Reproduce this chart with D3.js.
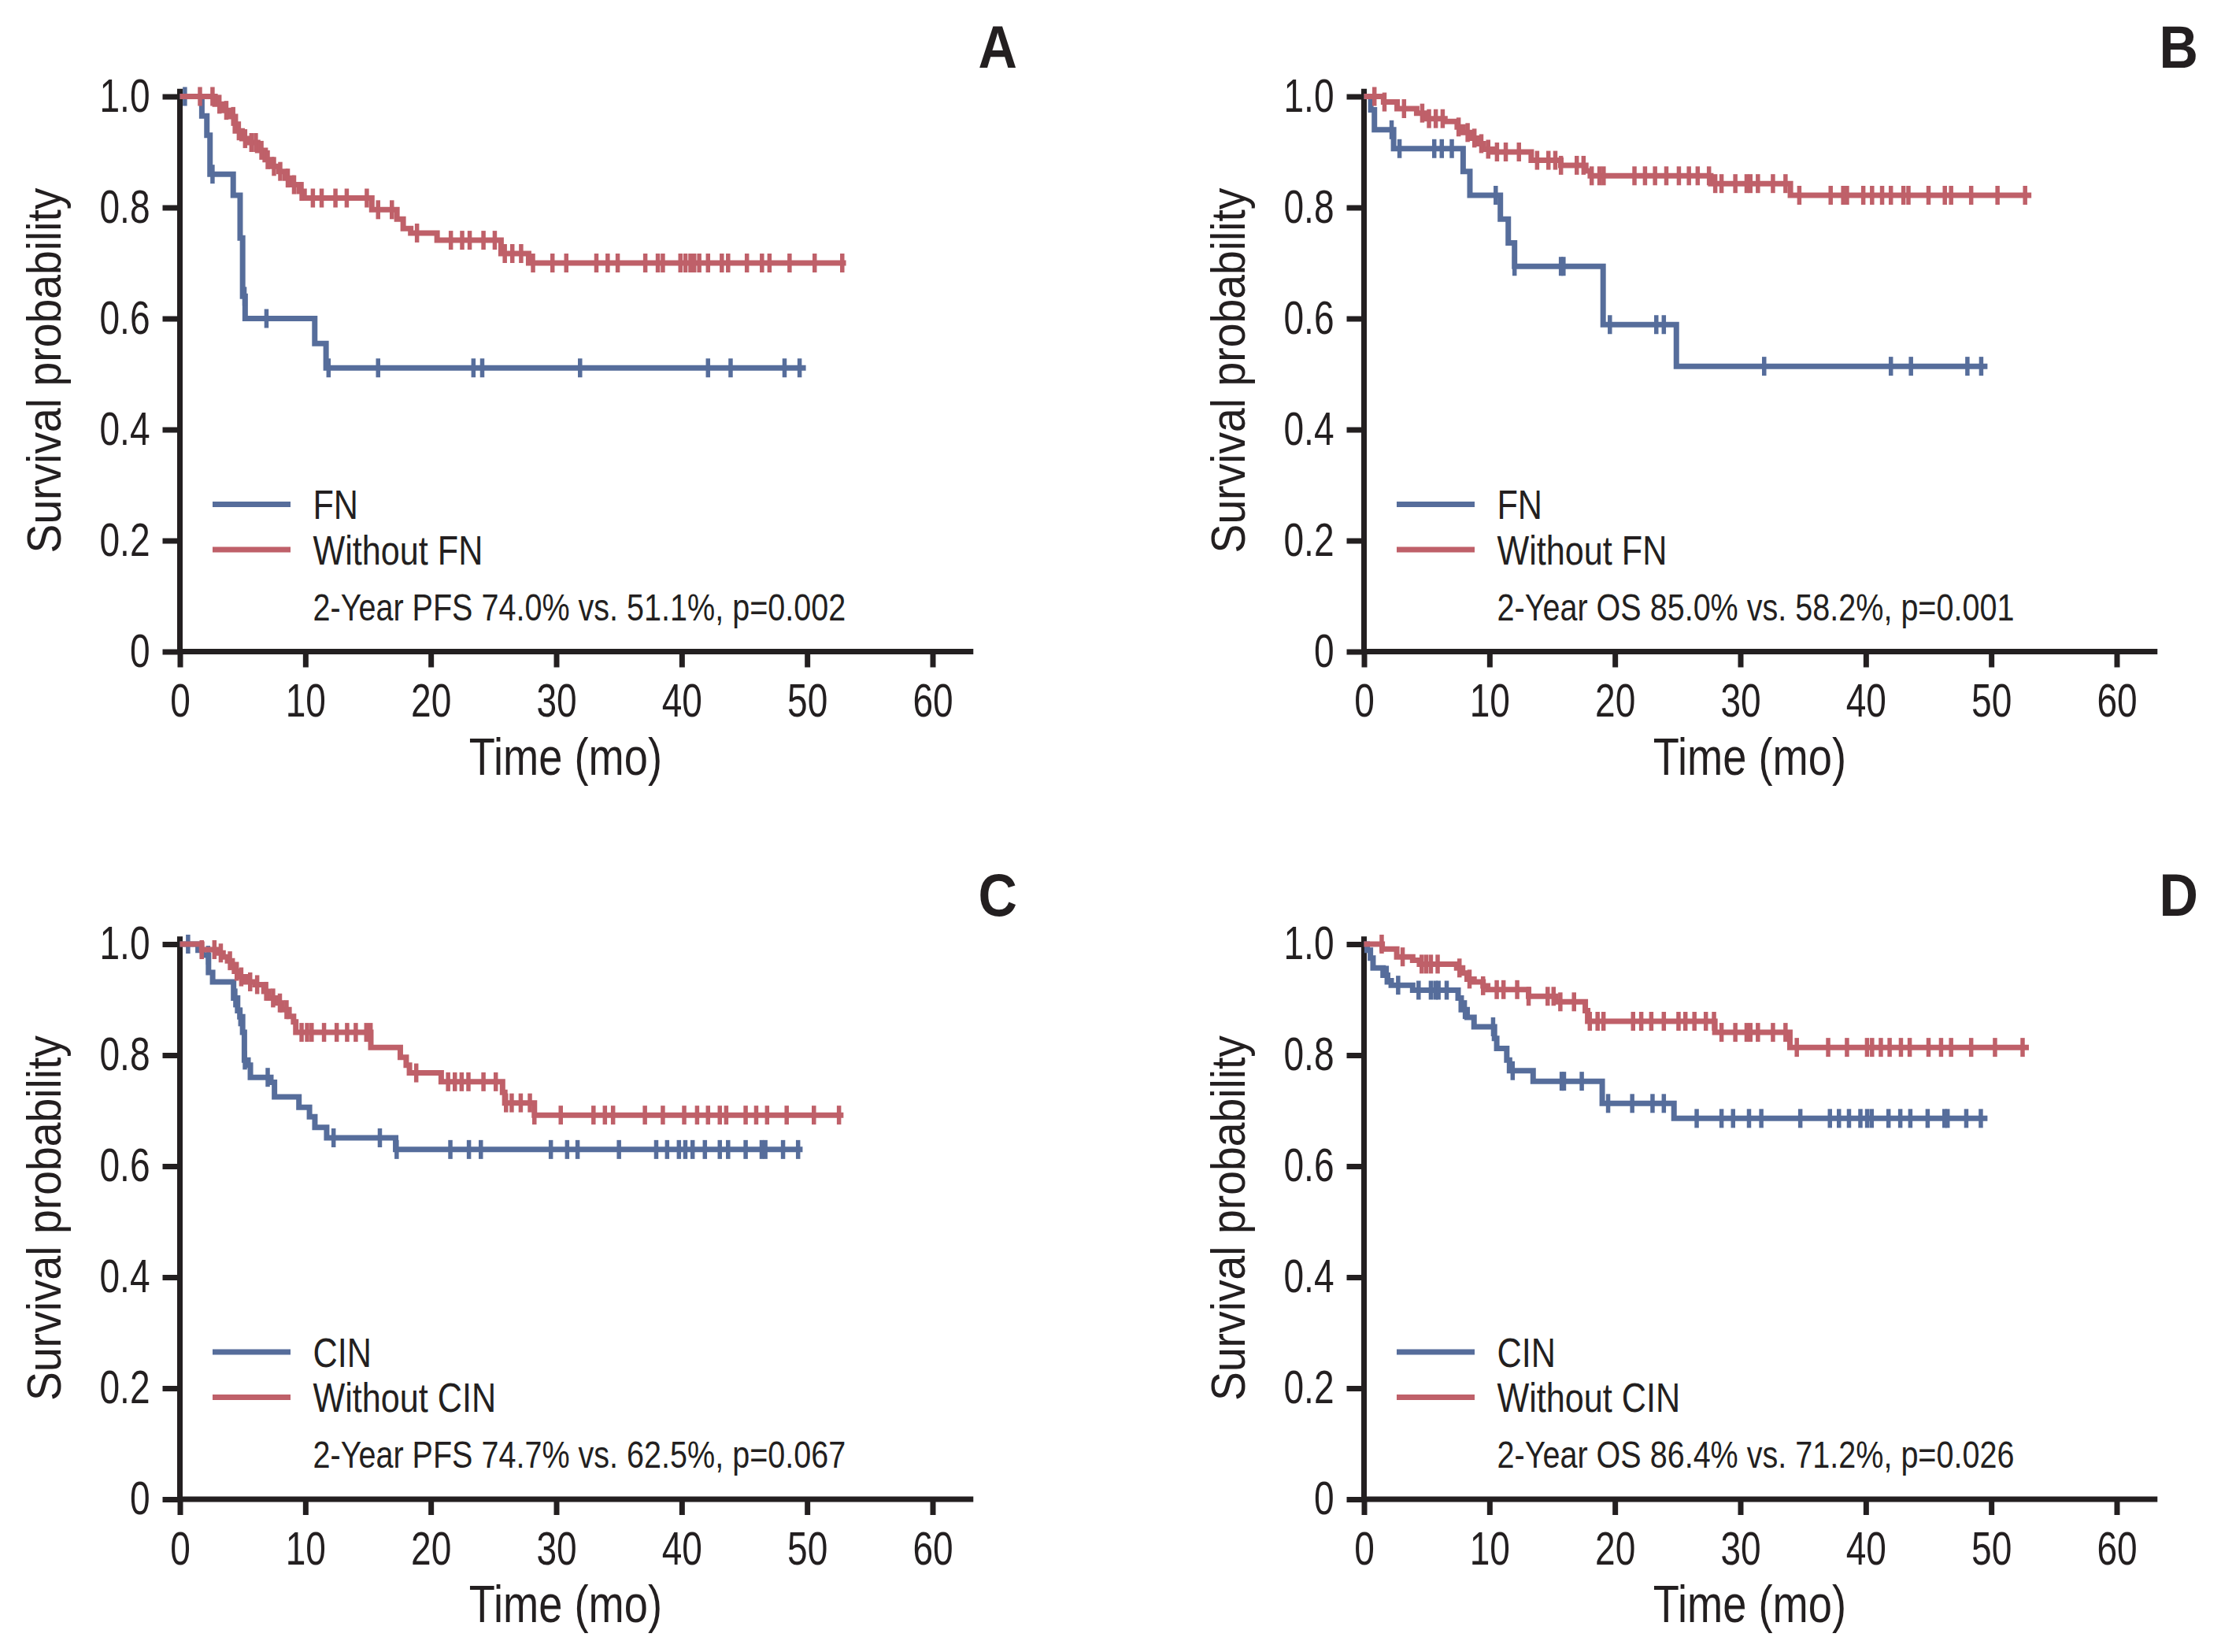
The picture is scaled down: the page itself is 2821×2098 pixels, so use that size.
<!DOCTYPE html>
<html><head><meta charset="utf-8">
<script src="https://cdn.jsdelivr.net/npm/d3@7"></script>
<style>body{margin:0;background:#fff}</style>
</head><body>
<svg id="chart" width="2821" height="2098"></svg>
<script>
// ---------- tick labels ----------
const xTicks = [0, 10, 20, 30, 40, 50, 60];
const yTicks = [0, 0.2, 0.4, 0.6, 0.8, 1.0];
const panelLetters = ["A", "B", "C", "D"];
const groupLabelsFN = ["FN", "Without FN"];
const groupLabelsCIN = ["CIN", "Without CIN"];
const statTexts = [
  "2-Year PFS 74.0% vs. 51.1%, p=0.002",
  "2-Year OS 85.0% vs. 58.2%, p=0.001",
  "2-Year PFS 74.7% vs. 62.5%, p=0.067",
  "2-Year OS 86.4% vs. 71.2%, p=0.026"
];

// ---------- Panel A: PFS by FN ----------
const aFnTime = [1.75, 2.15, 2.4, 4.25, 4.8, 5.0, 5.2, 10.75, 11.65];
const aFnSurv = [0.965, 0.93, 0.86, 0.822, 0.745, 0.64, 0.60, 0.555, 0.511];
const aFnCens = [0.4, 2.6, 5.15, 6.9, 11.85, 15.8, 23.4, 24.1, 31.9, 42.1, 43.9, 48.2, 49.4];
const aFnEnd = 49.9;
const aNoTime = [2.8, 3.35, 4.05, 4.42, 4.96, 5.5, 6.2, 6.8, 7.3, 7.9, 8.4, 8.95, 9.5, 9.9, 15.3, 17.3, 17.8, 18.4, 20.5, 25.6, 27.8];
const aNoSurv = [0.986, 0.975, 0.964, 0.938, 0.924, 0.917, 0.903, 0.886, 0.874, 0.865, 0.853, 0.841, 0.829, 0.817, 0.796, 0.779, 0.762, 0.754, 0.741, 0.717, 0.70];
const aNoCens = [1.6, 2.6, 3.15, 3.7, 4.25, 4.7, 5.2, 5.7, 6.05, 6.5, 7.0, 7.5, 8.0, 8.6, 9.1, 9.7, 10.6, 11.3, 12.4, 13.3, 14.9, 15.8, 16.9, 18.9, 21.6, 22.5, 23.1, 24.2, 25.1, 25.9, 26.5, 27.2, 28.15, 29.7, 30.8, 33.2, 34.1, 34.9, 37.1, 38.1, 38.5, 39.9, 40.3, 40.7, 41.0, 41.4, 42.1, 43.2, 43.7, 45.2, 46.4, 47.0, 48.6, 50.6, 52.8];
const aNoEnd = 53.1;

// ---------- Panel B: OS by FN ----------
const bFnTime = [0.54, 0.83, 2.36, 7.9, 8.44, 10.87, 11.5, 12.0, 19.06, 24.9];
const bFnSurv = [0.976, 0.94, 0.906, 0.865, 0.822, 0.779, 0.736, 0.694, 0.589, 0.514];
const bFnCens = [2.2, 2.83, 5.6, 6.2, 7.0, 10.5, 12.0, 15.7, 15.9, 19.6, 23.3, 23.9, 31.9, 42.0, 43.6, 48.1, 49.2];
const bFnEnd = 49.7;
const bNoTime = [1.56, 2.64, 4.2, 5.0, 6.45, 7.43, 7.9, 8.44, 8.99, 9.53, 10.25, 13.33, 15.69, 17.68, 18.04, 27.64, 33.99];
const bNoSurv = [0.99, 0.978, 0.97, 0.96, 0.955, 0.945, 0.935, 0.925, 0.915, 0.905, 0.90, 0.885, 0.876, 0.866, 0.857, 0.843, 0.822];
const bNoCens = [0.83, 1.63, 3.19, 4.64, 5.18, 5.72, 6.27, 7.54, 8.26, 8.8, 9.35, 9.9, 10.6, 11.3, 12.35, 13.8, 14.7, 15.25, 15.7, 16.96, 17.5, 18.15, 18.77, 19.1, 21.56, 22.4, 23.2, 24.1, 25.1, 25.9, 26.6, 27.5, 28.0, 28.5, 29.6, 30.5, 30.8, 31.4, 32.6, 33.6, 34.7, 37.2, 38.2, 38.5, 39.8, 40.5, 41.3, 42.0, 43.0, 43.4, 45.0, 46.3, 46.8, 48.4, 50.5, 52.7];
const bNoEnd = 53.2;

// ---------- Panel C: PFS by CIN ----------
const cCinTime = [1.45, 1.81, 2.28, 2.61, 4.28, 4.6, 4.78, 5.0, 5.14, 5.43, 5.62, 7.25, 7.54, 9.49, 10.33, 10.76, 11.7, 17.2];
const cCinSurv = [0.989, 0.98, 0.949, 0.932, 0.903, 0.88, 0.869, 0.841, 0.791, 0.782, 0.76, 0.751, 0.725, 0.706, 0.689, 0.67, 0.651, 0.63];
const cCinCens = [0.65, 2.25, 4.42, 4.82, 5.18, 7.0, 12.25, 15.94, 17.28, 21.56, 23.04, 23.99, 29.57, 30.87, 31.7, 35.0, 37.97, 38.84, 39.78, 40.29, 40.87, 41.85, 43.04, 43.7, 45.1, 46.38, 46.67, 48.08, 49.28];
const cCinEnd = 49.64;
const cNoTime = [1.74, 2.9, 3.44, 3.8, 4.17, 4.35, 4.71, 5.25, 5.98, 6.7, 7.07, 7.6, 8.15, 8.7, 9.06, 9.24, 15.22, 17.57, 18.04, 18.3, 20.83, 25.72, 25.9, 28.26];
const cNoSurv = [0.99, 0.984, 0.977, 0.97, 0.96, 0.951, 0.941, 0.932, 0.927, 0.915, 0.903, 0.894, 0.882, 0.87, 0.86, 0.841, 0.814, 0.796, 0.782, 0.768, 0.752, 0.733, 0.714, 0.692];
const cNoCens = [1.74, 2.75, 3.26, 3.99, 4.53, 4.89, 5.6, 6.16, 6.88, 7.43, 7.97, 8.5, 9.7, 10.14, 10.5, 11.49, 12.5, 13.33, 14.02, 14.86, 15.2, 18.84, 21.38, 21.92, 22.46, 23.0, 24.2, 25.18, 26.0, 26.45, 27.17, 27.9, 28.26, 30.36, 32.97, 33.88, 34.53, 37.07, 38.5, 40.2, 41.23, 42.1, 43.04, 43.55, 45.1, 45.94, 46.81, 48.37, 50.54, 52.54];
const cNoEnd = 52.9;

// ---------- Panel D: OS by CIN ----------
const dCinTime = [0.25, 0.51, 0.72, 1.52, 1.88, 2.17, 3.88, 7.5, 7.75, 8.22, 8.77, 10.4, 10.58, 11.38, 11.6, 13.48, 18.99, 24.71];
const dCinSurv = [0.989, 0.975, 0.957, 0.944, 0.934, 0.926, 0.917, 0.903, 0.882, 0.868, 0.851, 0.83, 0.812, 0.791, 0.772, 0.753, 0.713, 0.686];
const dCinCens = [1.81, 2.72, 4.35, 5.33, 5.69, 5.94, 6.59, 8.04, 10.29, 11.85, 15.76, 15.94, 17.36, 19.46, 21.38, 23.0, 23.9, 26.52, 28.5, 29.42, 30.69, 31.67, 34.78, 37.14, 37.86, 38.66, 39.57, 40.11, 40.47, 41.81, 42.75, 43.55, 44.93, 46.27, 46.52, 48.01, 49.17];
const dCinEnd = 49.7;
const dNoTime = [1.45, 2.61, 3.88, 4.42, 7.39, 7.86, 8.22, 8.77, 9.49, 9.86, 13.12, 15.29, 17.64, 17.83, 27.97, 33.95];
const dNoSurv = [0.991, 0.977, 0.971, 0.964, 0.957, 0.948, 0.937, 0.932, 0.925, 0.918, 0.906, 0.896, 0.88, 0.861, 0.841, 0.814];
const dNoCens = [1.41, 3.08, 4.6, 4.96, 5.33, 5.87, 7.61, 8.41, 9.49, 10.58, 11.12, 12.21, 13.12, 14.64, 15.11, 15.65, 16.74, 18.0, 18.62, 19.09, 21.45, 22.1, 22.9, 23.9, 25.07, 25.62, 26.34, 27.25, 27.9, 28.5, 29.6, 30.5, 30.8, 31.4, 32.6, 33.6, 34.5, 37.0, 38.5, 40.1, 40.5, 41.2, 41.9, 42.8, 43.5, 45.0, 46.0, 46.8, 48.4, 50.3, 52.5];
const dNoEnd = 53.0;

// ---------- styles & layout ----------
const BLUE = "#566d9b", RED = "#bf6069", INK = "#231f20";
const SANS = "'Liberation Sans', Arial, sans-serif";
const PW = 956, PH = 705;
const LW = 7;

// condense a text node horizontally (emulates a condensed typeface)
function narrow(sel, factor) {
  sel.each(function () {
    const w = this.getComputedTextLength();
    if (w > 0) d3.select(this).attr("textLength", w * factor).attr("lengthAdjust", "spacingAndGlyphs");
  });
  return sel;
}

const panels = [
  {x0: 228.5, y0: 827.5, letterX: 1292, letterY: 86, labels: groupLabelsFN, stat: statTexts[0],
   curves: [[aFnTime, aFnSurv, aFnCens, aFnEnd, BLUE], [aNoTime, aNoSurv, aNoCens, aNoEnd, RED]]},
  {x0: 1732.5, y0: 827.5, letterX: 2792, letterY: 86, labels: groupLabelsFN, stat: statTexts[1],
   curves: [[bFnTime, bFnSurv, bFnCens, bFnEnd, BLUE], [bNoTime, bNoSurv, bNoCens, bNoEnd, RED]]},
  {x0: 228.5, y0: 1904, letterX: 1292, letterY: 1163, labels: groupLabelsCIN, stat: statTexts[2],
   curves: [[cCinTime, cCinSurv, cCinCens, cCinEnd, BLUE], [cNoTime, cNoSurv, cNoCens, cNoEnd, RED]]},
  {x0: 1732.5, y0: 1904, letterX: 2792, letterY: 1163, labels: groupLabelsCIN, stat: statTexts[3],
   curves: [[dCinTime, dCinSurv, dCinCens, dCinEnd, BLUE], [dNoTime, dNoSurv, dNoCens, dNoEnd, RED]]}
];

const svg = d3.select("#chart");
svg.append("rect").attr("width", 2821).attr("height", 2098).attr("fill", "#fff");

panels.forEach((p, i) => {
  const g = svg.append("g");
  const x = d3.scaleLinear().domain([0, 60]).range([p.x0, p.x0 + PW]);
  const y = d3.scaleLinear().domain([0, 1]).range([p.y0, p.y0 - PH]);

  // axes
  const xa = g.append("g").attr("transform", `translate(0,${p.y0})`)
    .call(d3.axisBottom(x).tickValues(xTicks).tickSize(20).tickSizeOuter(0).tickPadding(21).tickFormat(d3.format("d")));
  const ya = g.append("g").attr("transform", `translate(${p.x0},0)`)
    .call(d3.axisLeft(y).tickValues(yTicks).tickSize(22).tickSizeOuter(0).tickPadding(16)
      .tickFormat(d => d === 0 ? "0" : d3.format(".1f")(d)));
  [xa, ya].forEach(a => {
    a.select(".domain").remove();
    a.attr("font-family", SANS).attr("font-size", 59);
    a.selectAll(".tick line").attr("stroke", INK).attr("stroke-width", LW);
    a.selectAll(".tick text").attr("fill", INK).call(narrow, 0.78);
  });
  g.append("line").attr("x1", x(0) - 3.5).attr("x2", x(63.25)).attr("y1", y(0)).attr("y2", y(0))
    .attr("stroke", INK).attr("stroke-width", LW);
  g.append("line").attr("x1", x(0)).attr("x2", x(0)).attr("y1", y(0) + 3.5).attr("y2", y(1.014))
    .attr("stroke", INK).attr("stroke-width", LW);

  // axis titles
  g.append("text").attr("x", (x(0) + x(63.25)) / 2 - 14).attr("y", p.y0 + 156)
    .attr("text-anchor", "middle").attr("font-family", SANS).attr("font-size", 67).attr("fill", INK)
    .text("Time (mo)").call(narrow, 0.81);
  const ly = p.y0 - 357, lx = p.x0 - 152;
  g.append("text").attr("transform", `translate(${lx},${ly}) rotate(-90)`)
    .attr("text-anchor", "middle").attr("font-family", SANS).attr("font-size", 62).attr("fill", INK)
    .attr("textLength", 464).attr("lengthAdjust", "spacingAndGlyphs")
    .text("Survival probability");

  // panel letter
  g.append("text").attr("x", p.letterX).attr("y", p.letterY).attr("text-anchor", "end")
    .attr("font-family", SANS).attr("font-weight", "bold").attr("font-size", 76).attr("fill", INK)
    .text(panelLetters[i]).call(narrow, 0.9);

  // curves
  const line = d3.line().x(d => x(d[0])).y(d => y(d[1])).curve(d3.curveStepAfter);
  p.curves.forEach(([tt, ss, cc, end, col]) => {
    const pts = [[0, 1]].concat(tt.map((t, k) => [t, ss[k]]));
    pts.push([end, ss[ss.length - 1]]);
    g.append("path").attr("d", line(pts)).attr("fill", "none").attr("stroke", col)
      .attr("stroke-width", LW).attr("stroke-linejoin", "miter");
    const sAt = t => { let s = 1; tt.forEach((v, k) => { if (v <= t) s = ss[k]; }); return s; };
    g.selectAll(null).data(cc).enter().append("line")
      .attr("x1", d => x(d)).attr("x2", d => x(d))
      .attr("y1", d => y(sAt(d)) - 12).attr("y2", d => y(sAt(d)) + 12)
      .attr("stroke", col).attr("stroke-width", 5.5);
  });

  // legend
  const legY = [p.y0 - 187, p.y0 - 129.5];
  [BLUE, RED].forEach((col, k) => {
    g.append("line").attr("x1", p.x0 + 41.5).attr("x2", p.x0 + 140.5).attr("y1", legY[k]).attr("y2", legY[k])
      .attr("stroke", col).attr("stroke-width", LW);
    g.append("text").attr("x", p.x0 + 169).attr("y", legY[k]).attr("dy", "0.36em")
      .attr("font-family", SANS).attr("font-size", 52).attr("fill", INK).text(p.labels[k]).call(narrow, 0.83);
  });
  g.append("text").attr("x", p.x0 + 169).attr("y", p.y0 - 40)
    .attr("font-family", SANS).attr("font-size", 49).attr("fill", INK).text(p.stat).call(narrow, 0.807);
});
</script>
</body></html>
